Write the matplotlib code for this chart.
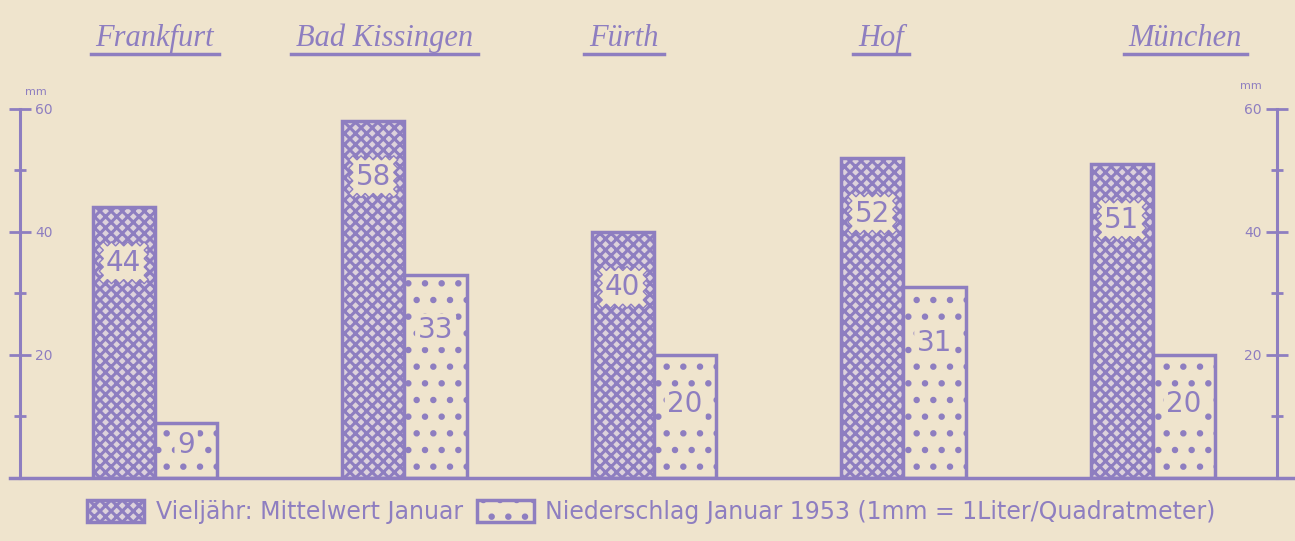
import matplotlib
matplotlib.use("Agg")
import matplotlib.pyplot as plt
import numpy as np

# data
staedte = ['Frankfurt', 'Bad Kissingen', 'Fürth', 'Hof', 'München']
mittel_jan = [44, 58, 40, 52, 51]          # vieljaehriger Mittelwert Januar
jan_1953 = [9, 33, 20, 31, 20]              # Niederschlag Januar 1953
y_ticks = [20, 40, 60]

ink = '#8e7ec0'
paper = '#efe4cd'
plt.rcParams['hatch.linewidth'] = 2.2
plt.rcParams['hatch.color'] = ink

fig = plt.figure(figsize=(12.95, 5.41), dpi=100, facecolor=paper)
ax = fig.add_axes([0.0154, 0.1165, 0.9707, 0.7048])
ax.set_facecolor(paper)

x = np.arange(len(staedte))
w = 0.25
b1 = ax.bar(x - w/2, mittel_jan, w, facecolor='#ddd2dc', edgecolor=ink,
            linewidth=2.5, hatch='xxx', label='Vieljähr: Mittelwert Januar')
b2 = ax.bar(x + w/2, jan_1953, w, facecolor=paper, edgecolor=ink,
            linewidth=2.5, hatch='.', label='Niederschlag Januar 1953 (1mm = 1Liter/Quadratmeter)')

# Zahlen in den Balken
for xi, v in zip(x - w/2, mittel_jan):
    ax.text(xi, v - 9, str(v), ha='center', va='center', fontsize=20, color=ink,
            bbox=dict(boxstyle='sawtooth,pad=0.25,tooth_size=0.15', fc=paper, ec=ink, lw=1))
for xi, v in zip(x + w/2, jan_1953):
    ax.text(xi, max(v - 9, v * 0.6), str(v), ha='center', va='center', fontsize=20, color=ink,
            bbox=dict(boxstyle='round,pad=0.1', fc=paper, ec='none'))

ax.set_xlim(-0.541, 4.497)
ax.set_ylim(0, 62)
ax.set_xticks([])

# Achsen links und rechts
for s in ['top', 'bottom', 'right']:
    ax.spines[s].set_visible(False)
ax.spines['left'].set_bounds(0, 60)
ax.spines['left'].set_color(ink)
ax.spines['left'].set_linewidth(2.2)
ax.set_yticks(y_ticks)
ax.set_yticks([10, 30, 50], minor=True)
ax.tick_params(axis='y', which='major', direction='inout', length=16, width=2,
               color=ink, labelcolor=ink, labelsize=10, pad=-19)
ax.tick_params(axis='y', which='minor', direction='inout', length=9, width=2, color=ink)
for t in ax.get_yticklabels():
    t.set_horizontalalignment('left')

ax2 = ax.twinx()
ax2.set_ylim(ax.get_ylim())
for s in ['top', 'bottom', 'left']:
    ax2.spines[s].set_visible(False)
ax2.spines['right'].set_bounds(0, 60)
ax2.spines['right'].set_color(ink)
ax2.spines['right'].set_linewidth(2.2)
ax2.set_yticks(y_ticks)
ax2.set_yticks([10, 30, 50], minor=True)
ax2.tick_params(axis='y', which='major', direction='inout', length=16, width=2,
                color=ink, labelcolor=ink, labelsize=10, pad=-19)
ax2.tick_params(axis='y', which='minor', direction='inout', length=9, width=2, color=ink)
for t in ax2.get_yticklabels():
    t.set_horizontalalignment('right')

ax.text(0.004, 62.3, 'mm', transform=ax.get_yaxis_transform(), fontsize=8, color=ink)
ax.text(0.988, 63.2, 'mm', transform=ax.get_yaxis_transform(), fontsize=8, color=ink, ha='right')

# Grundlinie
ax.axhline(0, xmin=-0.008, xmax=1.02, color=ink, lw=2.5, clip_on=False)

# Staedtenamen, unterstrichen
titel_dx = [0.0, -0.08, -0.12, -0.09, 0.13]
titel = []
for xi, dx, name in zip(x, titel_dx, staedte):
    t = ax.text(xi + dx, 71.5, name, ha='center', va='center', fontsize=22, style='italic',
                family='Liberation Serif', color=ink, clip_on=False)
    titel.append(t)
fig.canvas.draw()
inv = ax.transData.inverted()
for t in titel:
    bb = t.get_window_extent()
    (x0, _), (x1, _) = inv.transform([[bb.x0, bb.y0], [bb.x1, bb.y1]])
    ax.plot([x0 - 0.02, x1 + 0.02], [69.0, 69.0], color=ink, lw=2.5, clip_on=False)

fig.legend(handles=[b1, b2], loc='center', bbox_to_anchor=(0.503, 0.054), ncol=2,
           frameon=False, fontsize=17, handlelength=2.4, handleheight=1.1,
           columnspacing=0.6, handletextpad=0.5, labelcolor=ink)

fig.savefig('out.png', dpi=100, facecolor=paper)
